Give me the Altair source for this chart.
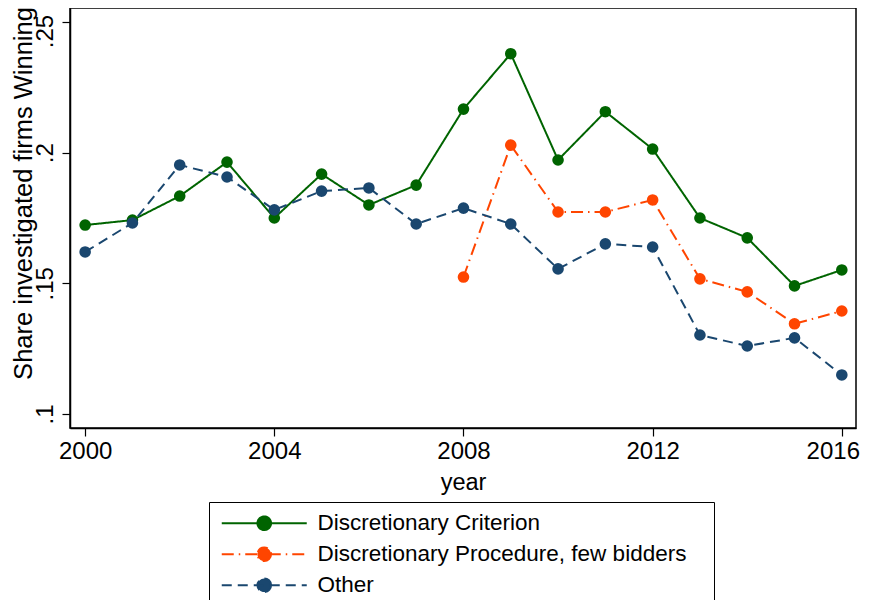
import altair as alt
import pandas as pd

years = list(range(2000, 2017))
series_names = ["Discretionary Criterion", "Discretionary Procedure, few bidders", "Other"]

crit = [0.1723, 0.1742, 0.1834, 0.1964, 0.1750, 0.1918, 0.1800, 0.1876, 0.2167,
        0.2379, 0.1972, 0.2157, 0.2014, 0.1750, 0.1674, 0.1490, 0.1551]
proc_years = list(range(2008, 2017))
proc = [0.1524, 0.2029, 0.1773, 0.1773, 0.1819, 0.1517, 0.1467, 0.1345, 0.1394]
other = [0.1620, 0.1731, 0.1953, 0.1907, 0.1781, 0.1853, 0.1865, 0.1727, 0.1788,
         0.1727, 0.1555, 0.1651, 0.1639, 0.1302, 0.1260, 0.1291, 0.1149]

colors = ["#006400", "#ff4500", "#1a476f"]
dashes = [[1, 0], [12, 5, 1.5, 5], [10, 6]]

rows = []
for y, v in zip(years, crit):
    rows.append({"year": y, "share": v, "series": series_names[0]})
for y, v in zip(proc_years, proc):
    rows.append({"year": y, "share": v, "series": series_names[1]})
for y, v in zip(years, other):
    rows.append({"year": y, "share": v, "series": series_names[2]})
df = pd.DataFrame(rows)

FONT = "Liberation Sans"
BL = "\u2800"  # blank (non-trimmed) padding character

x_enc = alt.X("year:Q",
              scale=alt.Scale(domain=[1999.68, 2016.3], nice=False, zero=False),
              axis=alt.Axis(values=[2000, 2004, 2008, 2012, 2016], format="d",
                            labelExpr=f"datum.value == 2016 ? datum.label + '{BL}' : datum.label",
                            title="year", grid=False, tickSize=8, labelPadding=3,
                            labelFontSize=24, titleFontSize=23.5, labelFont=FONT, titleFont=FONT,
                            titleFontWeight="normal", labelColor="black", titleColor="black",
                            domainColor="black", tickColor="black", domainWidth=1.5, tickWidth=1.2,
                            titleY=61, titleBaseline="alphabetic", labelOverlap=False))
y_enc = alt.Y("share:Q",
              scale=alt.Scale(domain=[0.0946, 0.2554], nice=False, zero=False),
              axis=alt.Axis(values=[0.1, 0.15, 0.2, 0.25],
                            labelExpr=("datum.value > 0.24 ? substring(format(datum.value, '~g'), 1) + "
                                       f"'{BL}' : substring(format(datum.value, '~g'), 1)"),
                            title="Share investigated firms Winning", grid=False, tickSize=8,
                            labelAngle=270, labelPadding=5,
                            labelFontSize=24, titleFontSize=25.5, labelFont=FONT, titleFont=FONT,
                            titleFontWeight="normal", labelColor="black", titleColor="black",
                            domainColor="black", tickColor="black", domainWidth=1.5, tickWidth=1.2,
                            titleAngle=270, titleX=-39, titleY=185, titleBaseline="alphabetic",
                            titleAlign="center"))

cscale = alt.Scale(domain=series_names, range=colors)
dscale = alt.Scale(domain=series_names, range=dashes)
leg = alt.Legend(title=None, labelExpr=f"datum.label + '{BL}'")

base = alt.Chart(df)
lines = base.mark_line(strokeWidth=2).encode(
    x=x_enc, y=y_enc,
    color=alt.Color("series:N", scale=cscale, legend=leg),
    strokeDash=alt.StrokeDash("series:N", scale=dscale, legend=leg),
)
points = base.mark_point(filled=True, size=135, opacity=1).encode(
    x=x_enc, y=y_enc,
    color=alt.Color("series:N", scale=cscale, legend=leg),
    strokeDash=alt.StrokeDash("series:N", scale=dscale, legend=leg),
)

# legend key: horizontal line with a dot in the middle
sym_path = "M-5,0H5M0.8,0A0.8,0.8,0,1,1,-0.8,0A0.8,0.8,0,1,1,0.8,0Z"

chart = alt.layer(lines, points).properties(
    width=786, height=420,
    autosize=alt.AutoSizeParams(type="none"),
    padding={"left": 62, "top": 0, "right": 5, "bottom": 172},
).configure_view(
    stroke="black", strokeWidth=1.5
).configure_legend(
    orient="none", legendX=139, legendY=494,
    symbolType=sym_path, symbolSize=289, symbolStrokeWidth=2, symbolOffset=34,
    labelFontSize=22.5, labelFont=FONT, labelColor="black", labelLimit=0,
    strokeColor="black", padding=10, rowPadding=8, labelOffset=42,
    fillColor="white",
)

chart.save("out.html", embed_options={"renderer": "svg", "actions": False})
